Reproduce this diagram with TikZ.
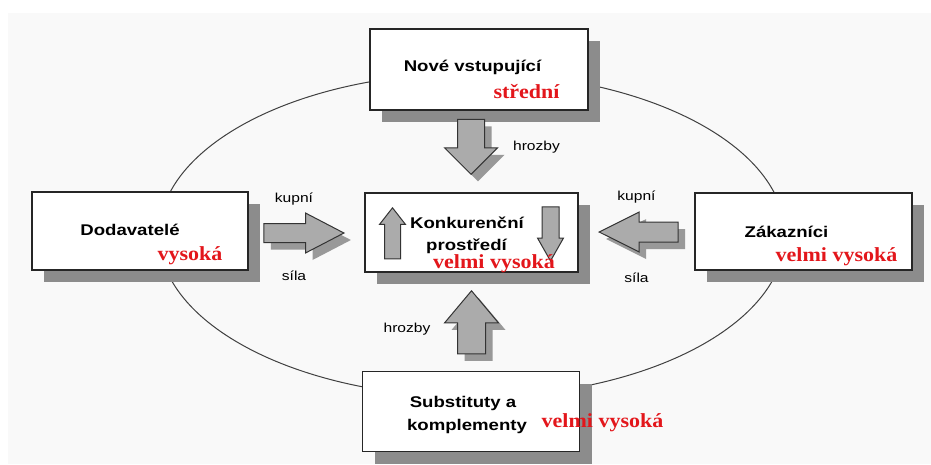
\documentclass[tikz,border=0pt]{standalone}
\usepackage{fontspec}
\usepackage{tikz}
\usetikzlibrary{shapes.arrows,shadows}
\newfontfamily\boxfont[FakeStretch=1.2]{Liberation Sans}
\newfontfamily\ratefont[FakeStretch=1.1]{Liberation Serif}
\definecolor{paper}{HTML}{F9F9F9}
\definecolor{boxshade}{HTML}{8C8C8C}
\definecolor{arrowfill}{HTML}{ABABAB}
\definecolor{arrowshade}{HTML}{999999}
\definecolor{ratered}{HTML}{E3161B}
\tikzset{
  forcebox/.style={draw=black!85,line width=1.6pt,fill=white,inner sep=0pt,minimum width=217pt,minimum height=79pt,
    drop shadow={shadow xshift=12pt,shadow yshift=-12pt,fill=boxshade,opacity=1}},
  boxtext/.style={font=\boxfont\bfseries\fontsize{15.5}{18}\selectfont,inner sep=0pt,anchor=base},
  ratetext/.style={font=\ratefont\bfseries\fontsize{20}{24}\selectfont,text=ratered,inner sep=0pt,anchor=base},
  flowtext/.style={font=\boxfont\fontsize{13}{15}\selectfont,inner sep=0pt,anchor=base},
  blockarrow/.style={single arrow,draw=black!80,line width=1pt,fill=arrowfill,inner xsep=0pt,anchor=tip,
    drop shadow={shadow xshift=7pt,shadow yshift=-7pt,fill=arrowshade,opacity=1}},
  innerarrow/.style={single arrow,draw=black!80,line width=1pt,fill=arrowfill,inner ysep=0pt,anchor=tip}
}
\begin{document}
\begin{tikzpicture}[x=1pt,y=-1pt]
  \useasboundingbox (0,0) rectangle (931,464);
  \fill[white] (0,0) rectangle (931,464); \fill[paper] (8,13) rectangle (931,464);
  \draw[black!75,line width=1pt] (472,235) ellipse [x radius=313, y radius=162];

  % the five forces
  \node[forcebox,minimum width=218pt,minimum height=81pt] (nove) at (479,69.5) {};
  \node[forcebox,minimum width=216pt,minimum height=78pt] (dodav) at (140,231) {};
  \node[forcebox,minimum width=213pt] (konk) at (471.5,232.5) {};
  \node[forcebox,minimum height=77pt] (zakaz) at (803.5,231.5) {};
  \node[forcebox,minimum height=80pt] (subst) at (471,411.5) {};

  % block arrows
  \node[blockarrow,shape border rotate=270,inner xsep=13pt,inner ysep=0pt,minimum height=55pt,single arrow head extend=13pt,single arrow tip angle=90] (hrozTop) at (471,175) {};
  \node[blockarrow,shape border rotate=90,inner xsep=13.5pt,inner ysep=0pt,minimum height=63pt,single arrow head extend=13pt,single arrow tip angle=80] (hrozBot) at (471.5,290) {};
  \node[blockarrow,inner ysep=9pt,minimum height=80pt,single arrow head extend=10.5pt,single arrow tip angle=55] (kupLeft) at (345,233) {};
  \node[blockarrow,shape border rotate=180,inner ysep=9.5pt,minimum height=79pt,single arrow head extend=10pt,single arrow tip angle=53] (kupRight) at (598,232) {};
  \node[innerarrow,shape border rotate=90,inner xsep=7.5pt,minimum height=51pt,single arrow head extend=5pt,single arrow tip angle=76] (upIn) at (392.5,207) {};
  \node[innerarrow,shape border rotate=270,inner xsep=8pt,minimum height=54pt,single arrow head extend=4.5pt,single arrow tip angle=59] (downIn) at (550.5,262) {};

  % texts
  \node[boxtext] (t1) at (472.5,71) {Nové vstupující}; \node[ratetext] (r1) at (526.5,98) {střední};
  \node[boxtext] (t2) at (130,235) {Dodavatelé}; \node[ratetext] (r2) at (190,260) {vysoká};
  \node[boxtext] (t3a) at (467,228) {Konkurenční}; \node[boxtext] (t3b) at (466.5,250) {prostředí}; \node[ratetext] (r3) at (494,268) {velmi vysoká};
  \node[boxtext] (t4) at (786.5,237) {Zákazníci}; \node[ratetext] (r4) at (836.5,261) {velmi vysoká};
  \node[boxtext] (t5a) at (463,407) {Substituty a}; \node[boxtext] (t5b) at (467,430) {komplementy}; \node[ratetext] (r5) at (602.5,427) {velmi vysoká};
  \node[flowtext] (f1) at (536.5,150) {hrozby}; \node[flowtext] (f2) at (407,332) {hrozby};
  \node[flowtext] (f3) at (294,202) {kupní}; \node[flowtext] (f4) at (294,280) {síla};
  \node[flowtext] (f5) at (636.5,200) {kupní}; \node[flowtext] (f6) at (636.5,282) {síla};
\end{tikzpicture}
\end{document}
